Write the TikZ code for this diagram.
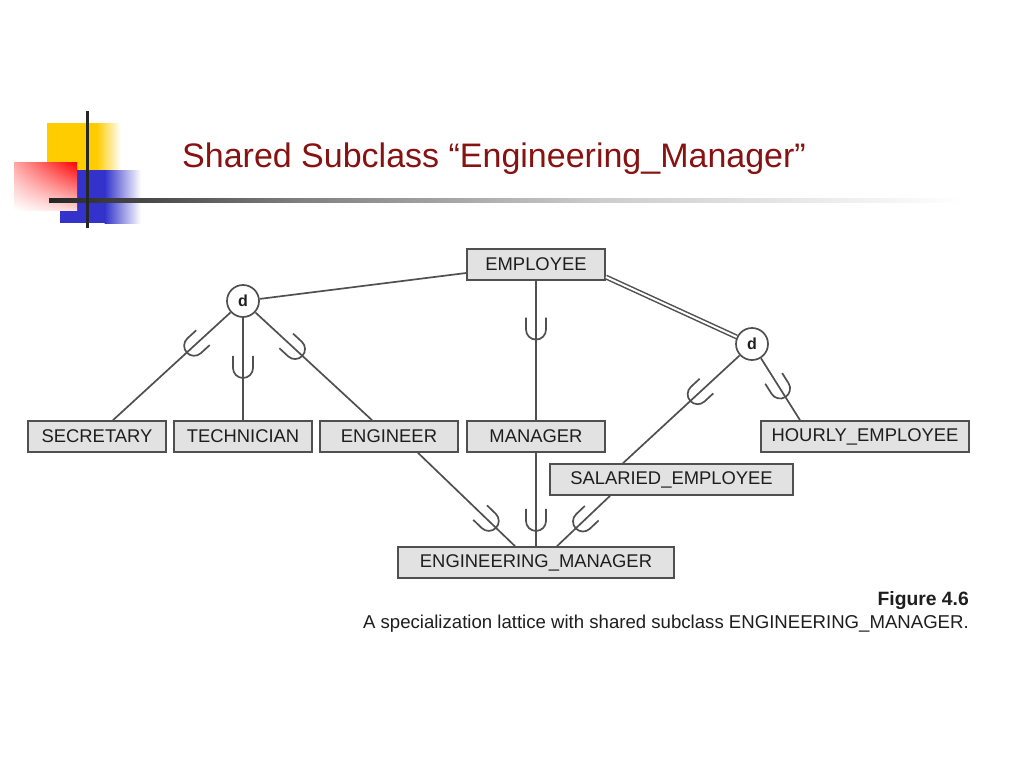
\documentclass[tikz,border=0pt]{standalone}
\usepackage{fontspec}
\setmainfont{Liberation Sans}
\usetikzlibrary{calc,decorations.markings,shadings}
\definecolor{titlered}{RGB}{135,18,18}
\definecolor{boxfill}{RGB}{226,226,226}
\definecolor{linegray}{RGB}{80,80,80}
\definecolor{txtgray}{RGB}{30,30,30}
\definecolor{logoyellow}{RGB}{255,204,0}
\definecolor{logoblue}{RGB}{51,51,204}
\tikzset{
  box/.style={draw=linegray, line width=1.7pt, fill=boxfill, minimum height=31pt, inner sep=0pt,
    text=txtgray, font=\fontsize{18.4}{20}\selectfont},
  dcirc/.style={draw=linegray, line width=1.7pt, fill=white, circle, minimum size=32pt, inner sep=0pt,
    text=txtgray, font=\fontsize{16}{18}\selectfont\bfseries},
  conn/.style={draw=linegray, line width=1.7pt},
  dbl/.style={draw=linegray, line width=1.5pt, double=white, double distance=2pt},
  subsetat/.style={postaction={decorate}, decoration={markings, mark=at position #1 with {
    \draw[conn] (-12pt,10pt) -- (0pt,10pt) arc[start angle=90,end angle=-90,radius=10pt] -- (-12pt,-10pt);}}}
}
\begin{document}
\begin{tikzpicture}[x=1pt,y=-1pt]
\useasboundingbox (0,0) rectangle (1024,768);
\fill[white] (0,0) rectangle (1024,768);
% logo
\fill[logoyellow] (47,123) rectangle (97,170);
\shade[left color=logoyellow, right color=white] (96.5,123) rectangle (121,170);
\fill[logoblue] (60,170) rectangle (105,223);
\shade[left color=logoblue, right color=white] (104.5,170) rectangle (141,223);
\shade[upper right=red, upper left=red!35!white, lower right=red!15!white, lower left=white] (14,162) rectangle (77,210);
\shade[left color=black!85, right color=black!50] (49,198) rectangle (300,202);
\shade[left color=black!50, right color=black!20] (299.5,198) rectangle (600,202);
\shade[left color=black!20, right color=white] (599.5,198) rectangle (965,202);
\fill[black!85] (85.5,111) rectangle (88.5,228);
% title
\node[anchor=base west, inner sep=0pt, text=titlered, font=\fontsize{34}{40}\selectfont] (title) at (182,167)
  {Shared Subclass “Engineering\_Manager”};
% boxes
\node[box, minimum width=138pt] (emp) at (536,264.5) {EMPLOYEE};
\node[box, minimum width=138pt] (sec) at (97,436.5) {SECRETARY};
\node[box, minimum width=138pt] (tec) at (243,436.5) {TECHNICIAN};
\node[box, minimum width=138pt] (eng) at (389,436.5) {ENGINEER};
\node[box, minimum width=138pt] (man) at (536,436.5) {MANAGER};
\node[box, minimum width=208pt] (hou) at (865,436.5) {HOURLY\_EMPLOYEE};
\node[box, minimum width=243pt] (sal) at (671.5,479.5) {SALARIED\_EMPLOYEE};
\node[box, minimum width=276pt] (em) at (536,562.5) {ENGINEERING\_MANAGER};
\node[dcirc] (d1) at (243,301) {d};
\node[dcirc] (d2) at (752,344) {d};
% connectors
\draw[conn] ($(emp.west)+(0,8.5)$) -- (d1);
\draw[dbl] ($(emp.east)+(0,12.5)$) -- (d2);
\draw[conn, subsetat=0.31] (d1) -- ($(sec.north)+(16,0)$);
\draw[conn, subsetat=0.49] (d1) -- (tec.north);
\draw[conn, subsetat=0.34] (d1) -- ($(eng.north)+(-17,0)$);
\draw[conn, subsetat=0.35] (emp.south) -- (man.north);
\draw[conn, subsetat=0.36] (d2) -- ($(sal.north)+(-48.5,0)$);
\draw[conn, subsetat=0.49] (d2) -- ($(hou.north)+(-65,0)$);
\draw[conn, subsetat=0.73] ($(eng.south)+(29,0)$) -- ($(em.north)+(-21,0)$);
\draw[conn, subsetat=0.73] (man.south) -- (em.north);
\draw[conn, subsetat=0.51] ($(sal.south)+(-61.5,0)$) -- ($(em.north)+(21,0)$);
% caption
\node[anchor=base east, inner sep=0pt, text=txtgray, font=\fontsize{19.3}{22}\selectfont\bfseries] (fig) at (969,605) {Figure 4.6};
\node[anchor=base east, inner sep=0pt, text=txtgray, font=\fontsize{18.6}{22}\selectfont] (cap) at (969,628)
  {A specialization lattice with shared subclass ENGINEERING\_MANAGER.};
\end{tikzpicture}
\end{document}
